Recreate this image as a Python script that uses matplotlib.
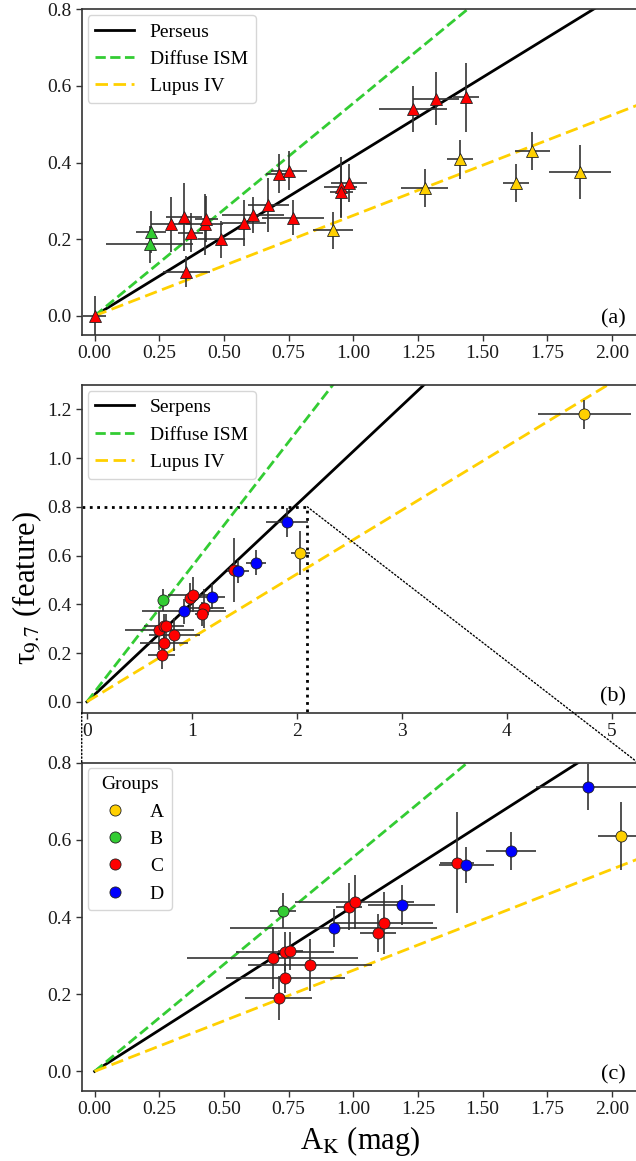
import numpy as np
import matplotlib
matplotlib.use("Agg")
import matplotlib.pyplot as plt
from matplotlib.lines import Line2D
from matplotlib.patches import ConnectionPatch

plt.rcParams['font.family'] = ['Liberation Serif', 'DejaVu Serif']
plt.rcParams['mathtext.fontset'] = 'stix'
plt.rcParams['axes.edgecolor'] = '#333333'
plt.rcParams['axes.linewidth'] = 1.2
plt.rcParams['xtick.color'] = '#333333'
plt.rcParams['ytick.color'] = '#333333'
plt.rcParams['xtick.labelcolor'] = '#1a1a1a'
plt.rcParams['ytick.labelcolor'] = '#1a1a1a'
plt.rcParams['xtick.labelsize'] = 14
plt.rcParams['ytick.labelsize'] = 14
plt.rcParams['legend.fontsize'] = 14

# ---------------- data: panel (a) Perseus ----------------
per_x = [0.0, 0.297, 0.345, 0.372, 0.354, 0.425, 0.432, 0.49, 0.577, 0.613,
         0.672, 0.712, 0.752, 0.765, 0.951, 0.953, 0.983, 1.231, 1.32, 1.435]
per_y = [0.0, 0.239, 0.258, 0.217, 0.115, 0.239, 0.252, 0.20, 0.241, 0.263,
         0.289, 0.371, 0.379, 0.256, 0.337, 0.324, 0.347, 0.540, 0.567, 0.571]
per_xerr = [0.045, 0.08, 0.07, 0.048, 0.09, 0.07, 0.045, 0.09, 0.085, 0.12,
            0.08, 0.05, 0.07, 0.12, 0.065, 0.045, 0.07, 0.13, 0.09, 0.05]
per_yerr = [0.052, 0.072, 0.089, 0.05, 0.04, 0.08, 0.06, 0.048, 0.06, 0.048,
            0.07, 0.05, 0.05, 0.045, 0.078, 0.07, 0.05, 0.06, 0.07, 0.09]

grn_x = [0.218, 0.213]
grn_y = [0.219, 0.187]
grn_xerr = [0.058, 0.168]
grn_yerr = [0.055, 0.048]

yel_x = [0.921, 1.276, 1.411, 1.628, 1.691, 1.875]
yel_y = [0.223, 0.333, 0.408, 0.347, 0.431, 0.375]
yel_xerr = [0.077, 0.09, 0.05, 0.05, 0.068, 0.12]
yel_yerr = [0.048, 0.05, 0.05, 0.05, 0.05, 0.07]

# ---------------- data: panels (b),(c) Serpens groups ----------------
groups = ['A', 'B', 'C', 'D']
grpA_x = [2.034, 4.74]
grpA_y = [0.61, 1.18]
grpA_xerr = [0.09, 0.44]
grpA_yerr = [0.089, 0.06]

grpB_x = [0.728]
grpB_y = [0.416]
grpB_xerr = [0.05]
grpB_yerr = [0.045]

grpC_x = [0.983, 1.006, 1.117, 1.095, 0.688, 0.737, 0.757, 0.834, 0.737, 0.711, 1.40]
grpC_y = [0.427, 0.44, 0.384, 0.359, 0.293, 0.31, 0.312, 0.275, 0.242, 0.19, 0.541]
grpC_xerr = [0.05, 0.23, 0.19, 0.068, 0.33, 0.19, 0.05, 0.24, 0.23, 0.13, 0.065]
grpC_yerr = [0.06, 0.07, 0.08, 0.05, 0.08, 0.05, 0.05, 0.067, 0.04, 0.057, 0.13]

grpD_x = [0.924, 1.187, 1.436, 1.61, 1.907]
grpD_y = [0.371, 0.431, 0.535, 0.571, 0.737]
grpD_xerr = [0.40, 0.13, 0.106, 0.097, 0.2]
grpD_yerr = [0.05, 0.052, 0.047, 0.05, 0.06]

# reference relations (tau / A_K slopes)
slope_perseus = 0.415
slope_serpens_b = 0.405
slope_serpens_c = 0.428
slope_diffuse = 0.555
slope_lupus = 0.262

ticks_ac_x = [0.0, 0.25, 0.5, 0.75, 1.0, 1.25, 1.5, 1.75, 2.0]
ticks_ac_y = [0.0, 0.2, 0.4, 0.6, 0.8]
ticks_b_x = [0, 1, 2, 3, 4, 5]
ticks_b_y = [0.0, 0.2, 0.4, 0.6, 0.8, 1.0, 1.2]

# ---------------- style ----------------
C_RED = '#ff0000'
C_GRN = '#33cc33'
C_YEL = '#ffd000'
C_BLU = '#0000ff'
C_ERR = '#333333'
group_colors = [C_YEL, C_GRN, C_RED, C_BLU]

fig = plt.figure(figsize=(6.36, 11.61), dpi=100)
W = 0.8745
ax_a = fig.add_axes([0.1285, 0.7115, W, 0.2805])
ax_b = fig.add_axes([0.1285, 0.3861, W, 0.2823])
ax_c = fig.add_axes([0.1285, 0.0606, W, 0.2825])

xlim_ac = (-0.05, 2.1)
ylim_ac = (-0.05, 0.8)
xlim_b = (-0.05, 5.25)
ylim_b = (-0.045, 1.3)


def draw_lines(ax, slope_black, xmax):
    xl = np.array([0.0, xmax])
    ax.plot(xl, slope_black * xl, color='black', lw=2.0, zorder=2)
    ax.plot(xl, slope_diffuse * xl, color=C_GRN, lw=2.0, ls='--', zorder=2)
    ax.plot(xl, slope_lupus * xl, color=C_YEL, lw=2.0, ls=(0, (4.5, 2)), zorder=2)


def pts(ax, x, y, xe, ye, color, marker, ms):
    ax.errorbar(x, y, xerr=xe, yerr=ye, fmt='none', ecolor=C_ERR,
                elinewidth=1.2, capsize=0, zorder=2.5)
    ax.plot(x, y, ls='none', marker=marker, ms=ms, mfc=color, mec='#222222',
            mew=0.6, zorder=3)


def line_legend(ax, first):
    handles = [Line2D([], [], color='black', lw=2.0),
               Line2D([], [], color=C_GRN, lw=2.0, ls='--'),
               Line2D([], [], color=C_YEL, lw=2.0, ls=(0, (4.5, 2)))]
    ax.legend(handles, [first, 'Diffuse ISM', 'Lupus IV'], loc='upper left',
              borderaxespad=0.3)


# ---- panel a ----
draw_lines(ax_a, slope_perseus, 2.5)
pts(ax_a, grn_x, grn_y, grn_xerr, grn_yerr, C_GRN, '^', 9)
pts(ax_a, yel_x, yel_y, yel_xerr, yel_yerr, C_YEL, '^', 9)
pts(ax_a, per_x, per_y, per_xerr, per_yerr, C_RED, '^', 9)
ax_a.set_xlim(*xlim_ac)
ax_a.set_ylim(*ylim_ac)
ax_a.set_xticks(ticks_ac_x)
ax_a.set_xticklabels([f'{t:.2f}' for t in ticks_ac_x])
ax_a.set_yticks(ticks_ac_y)
ax_a.set_yticklabels([f'{t:.1f}' for t in ticks_ac_y])
line_legend(ax_a, 'Perseus')
ax_a.text(0.978, 0.02, '(a)', transform=ax_a.transAxes, ha='right',
          va='bottom', fontsize=16)

# ---- panel b and c ----
grp_data = [(grpA_x, grpA_y, grpA_xerr, grpA_yerr),
            (grpB_x, grpB_y, grpB_xerr, grpB_yerr),
            (grpC_x, grpC_y, grpC_xerr, grpC_yerr),
            (grpD_x, grpD_y, grpD_xerr, grpD_yerr)]

draw_lines(ax_b, slope_serpens_b, 6)
draw_lines(ax_c, slope_serpens_c, 2.5)
for (gx, gy, gxe, gye), col in zip(grp_data, group_colors):
    pts(ax_b, gx, gy, gxe, gye, col, 'o', 8)
    pts(ax_c, gx, gy, gxe, gye, col, 'o', 8)

ax_b.set_xlim(*xlim_b)
ax_b.set_ylim(*ylim_b)
ax_b.set_xticks(ticks_b_x)
ax_b.set_xticklabels([str(t) for t in ticks_b_x])
ax_b.set_yticks(ticks_b_y)
ax_b.set_yticklabels([f'{t:.1f}' for t in ticks_b_y])
line_legend(ax_b, 'Serpens')
ax_b.text(0.978, 0.02, '(b)', transform=ax_b.transAxes, ha='right',
          va='bottom', fontsize=16)

ax_c.set_xlim(*xlim_ac)
ax_c.set_ylim(*ylim_ac)
ax_c.set_xticks(ticks_ac_x)
ax_c.set_xticklabels([f'{t:.2f}' for t in ticks_ac_x])
ax_c.set_yticks(ticks_ac_y)
ax_c.set_yticklabels([f'{t:.1f}' for t in ticks_ac_y])
ghandles = [Line2D([], [], ls='none', marker='o', ms=8, mfc=c, mec='#222222',
                   mew=0.6) for c in group_colors]
ax_c.legend(ghandles, groups, title='Groups', loc='upper left',
            borderaxespad=0.3, title_fontsize=14)
ax_c.text(0.978, 0.02, '(c)', transform=ax_c.transAxes, ha='right',
          va='bottom', fontsize=16)
ax_c.set_xlabel(r'A$_{\rm K}$ (mag)', fontsize=22, labelpad=4)

# zoom indicator in panel b
ax_b.plot([xlim_ac[0], xlim_ac[1], xlim_ac[1]],
          [ylim_ac[1], ylim_ac[1], ylim_b[0]], ls=':', color='black',
          lw=2.0, zorder=1.5)
con1 = ConnectionPatch(xyA=(xlim_ac[0], ylim_b[0]), coordsA=ax_b.transData,
                       xyB=(xlim_ac[0], ylim_ac[1]), coordsB=ax_c.transData,
                       ls=':', color='black', lw=1.0)
con2 = ConnectionPatch(xyA=(xlim_ac[1], ylim_ac[1]), coordsA=ax_b.transData,
                       xyB=(xlim_ac[1], ylim_ac[1]), coordsB=ax_c.transData,
                       ls=':', color='black', lw=1.0)
fig.add_artist(con1)
fig.add_artist(con2)

for ax in (ax_a, ax_b, ax_c):
    ax.tick_params(direction='out', length=4, width=1.0)

fig.text(0.043, 0.4935, 'τ$_{9.7}$ (feature)', rotation=90, ha='center',
         va='center', fontsize=22)

fig.savefig('out.png', dpi=100)
